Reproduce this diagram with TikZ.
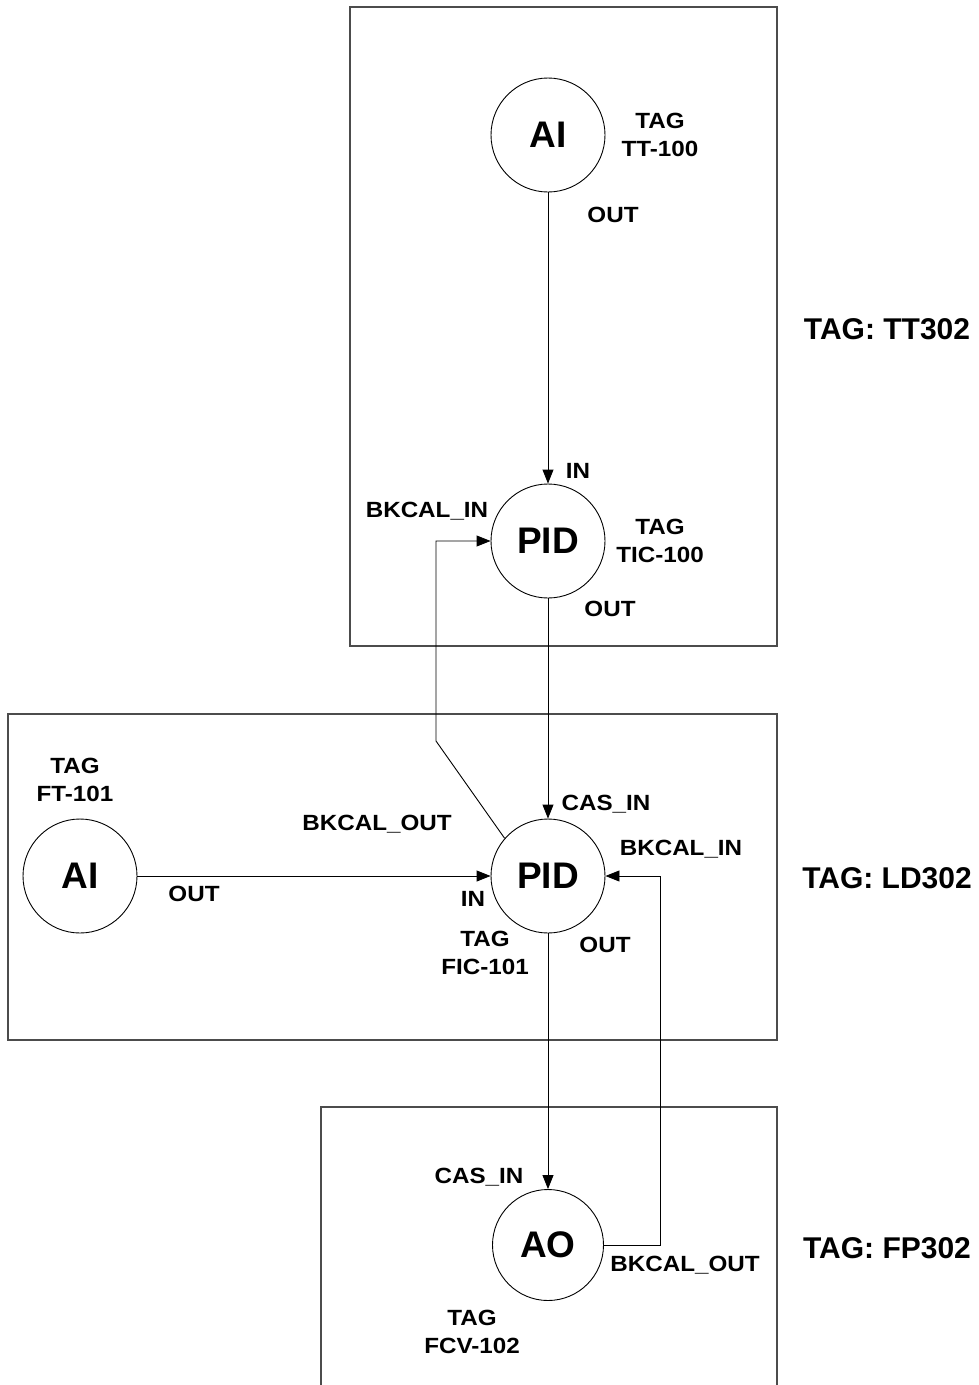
\documentclass[tikz,border=0pt]{standalone}
\usepackage{fontspec}
\setmainfont{Liberation Sans}
\newfontfamily\portfont[FakeStretch=1.1]{Liberation Sans}
\usepackage{tikz}
\usetikzlibrary{arrows.meta, positioning, calc}

\begin{document}
\begin{tikzpicture}[
    x=1pt, y=-1pt,
    font=\bfseries,
    block/.style={circle, draw=black, line width=0.9pt, minimum size=114pt, inner sep=0pt, font=\fontsize{37}{40}\selectfont\bfseries},
    link/.style={draw=black, line width=0.9pt, -{Triangle[length=14pt, width=11pt]}},
    device/.style={draw=black!70, line width=1.2pt},
    port/.style={font=\portfont\fontsize{22}{28}\selectfont\bfseries, align=center, inner sep=0pt},
    devtag/.style={font=\fontsize{30}{32}\selectfont\bfseries, inner sep=0pt}
]
    \useasboundingbox (0,0) rectangle (979,1385);

    % --- Device boxes ---
    \draw[device] (350,7) rectangle (777,646);
    \draw[device] (8,714) rectangle (777,1040);
    \draw[device] (321,1385) -- (321,1107) -- (777,1107) -- (777,1385);

    \node[devtag] (tt302) at (887,329) {TAG: TT302};
    \node[devtag] (ld302) at (887,878) {TAG: LD302};
    \node[devtag] (fp302) at (887,1248) {TAG: FP302};

    % --- Function blocks ---
    \node[block] (ai1) at (548,135) {AI};
    \node[block] (pid1) at (548,541) {PID};
    \node[block] (ai2) at (80,876) {AI};
    \node[block] (pid2) at (548,876) {PID};
    \node[block, minimum size=111pt] (ao) at (548,1245) {AO};

    % --- Tags and ports ---
    \node[port] (tag1) at (660,135) {TAG\\TT-100};
    \node[port] (out1) at (613,215) {OUT};
    \node[port] (in1) at (578,471) {IN};
    \node[port] (bkin1) at (427,511) {BKCAL\_IN};
    \node[port] (tag2) at (660,541) {TAG\\TIC-100};
    \node[port] (out2) at (610,609) {OUT};

    \node[port] (tag3) at (75,780) {TAG\\FT-101};
    \node[port] (out3) at (194,894) {OUT};
    \node[port] (bkout2) at (377,824) {BKCAL\_OUT};
    \node[port] (casin2) at (606,804) {CAS\_IN};
    \node[port] (bkin2) at (681,849) {BKCAL\_IN};
    \node[port] (in2) at (473,899) {IN};
    \node[port] (tag4) at (485,953) {TAG\\FIC-101};
    \node[port] (out4) at (605,945) {OUT};

    \node[port] (casin3) at (479,1177) {CAS\_IN};
    \node[port] (bkout3) at (685,1265) {BKCAL\_OUT};
    \node[port] (tag5) at (472,1332) {TAG\\FCV-102};

    % --- Links ---
    \coordinate (bend1) at (436,741);
    \coordinate (bend2) at (660,1245);

    \draw[link] (ai1) -- (pid1);
    \draw[link] (pid1) -- (pid2);
    \draw[link] (pid2) -- (ao);
    \draw[link] (ai2) -- (pid2);
    \draw[link] (pid2.139) -- (bend1) |- (pid1);
    \draw[link] (ao) -- (bend2) |- (pid2);
\end{tikzpicture}
\end{document}
